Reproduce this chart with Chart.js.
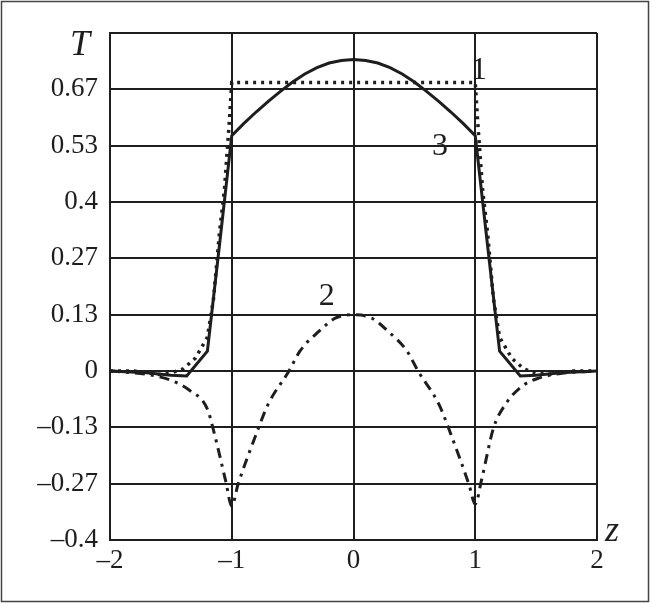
<!DOCTYPE html>
<html lang="en">
<head>
<meta charset="UTF-8">
<title>T(z)</title>
<script src="https://cdn.jsdelivr.net/npm/chart.js@4.4.1/dist/chart.umd.min.js"></script>
<style>
  html, body { margin: 0; padding: 0; background: #ffffff; }
  #wrap { width: 650px; height: 603px; position: relative; }
</style>
</head>
<body>
<div id="wrap"><canvas id="chart" width="650" height="603"></canvas></div>
<script>
// curve 1 (dotted)
const z1 = [-2, -1.8, -1.6, -1.5, -1.4, -1.3, -1.2, -1.15, -1.1, -1.06, -1.02, -1.0,
            1.0, 1.02, 1.06, 1.1, 1.15, 1.2, 1.3, 1.4, 1.5, 1.6, 1.8, 2];
const t1 = [0, 0, -0.008, -0.005, 0.005, 0.03, 0.08, 0.17, 0.33, 0.43, 0.59, 0.683,
            0.683, 0.59, 0.43, 0.33, 0.17, 0.08, 0.03, 0.005, -0.005, -0.008, 0, 0];

// curve 2 (dash-dot)
const z2 = [-2, -1.7, -1.5, -1.35, -1.2, -1.15, -1.05, -1.0, -0.95, -0.8, -0.7, -0.53, -0.44, -0.28, -0.15, 0,
            0.15, 0.28, 0.44, 0.53, 0.7, 0.8, 0.95, 1.0, 1.05, 1.15, 1.25, 1.39, 1.52, 1.7, 2];
const t2 = [0, -0.008, -0.022, -0.045, -0.09, -0.14, -0.26, -0.32, -0.27, -0.15, -0.078, 0, 0.047, 0.095, 0.125, 0.133,
            0.125, 0.095, 0.047, 0, -0.078, -0.15, -0.27, -0.315, -0.26, -0.135, -0.078, -0.035, -0.017, -0.006, 0];

// curve 3 (solid)
const z3 = [-2, -1.7, -1.5, -1.37, -1.2, -1.1, -1.0, -0.9, -0.8, -0.7, -0.6, -0.5, -0.4, -0.3, -0.2, -0.1, 0,
            0.1, 0.2, 0.3, 0.4, 0.5, 0.6, 0.7, 0.8, 0.9, 1.0, 1.1, 1.2, 1.37, 1.5, 1.7, 2];
const t3 = [0, -0.004, -0.01, -0.012, 0.047, 0.3, 0.557, 0.586, 0.613, 0.638, 0.662, 0.684, 0.703, 0.718, 0.729, 0.735, 0.737,
            0.735, 0.729, 0.718, 0.703, 0.684, 0.662, 0.638, 0.613, 0.586, 0.557, 0.3, 0.047, -0.012, -0.01, -0.004, 0];

const xTicks = [-2, -1, 0, 1, 2];
const yTicks = [-0.4, -0.2667, -0.1333, 0, 0.1333, 0.2667, 0.4, 0.5333, 0.6667, 0.8];
const yTickLabels = ['\u20130.4', '\u20130.27', '\u20130.13', '0', '0.13', '0.27', '0.4', '0.53', '0.67', ''];

// curve numbers: [text, z, T]
const curveLabels = [['1', 1.03, 0.71], ['3', 0.71, 0.53], ['2', -0.22, 0.175]];

const toPts = (zs, ts) => zs.map((z, i) => ({ x: z, y: ts[i] }));
const ink = '#1e1e1e';
const serif = '"Liberation Serif", "Times New Roman", serif';

const textPlugin = {
  id: 'texts',
  afterDraw(chart) {
    const ctx = chart.ctx;
    const xs = chart.scales.x, ys = chart.scales.y;
    ctx.save();
    ctx.fillStyle = ink;
    ctx.textAlign = 'center';
    ctx.textBaseline = 'middle';
    ctx.font = '32px ' + serif;
    curveLabels.forEach(([s, z, t]) => {
      ctx.fillText(s, xs.getPixelForValue(z), ys.getPixelForValue(t));
    });
    ctx.font = 'italic 36px ' + serif;
    ctx.fillText('T', 80, 46);
    ctx.fillText('z', 612, 532);
    // outer frame
    ctx.strokeStyle = '#444';
    ctx.lineWidth = 1.5;
    ctx.strokeRect(1.5, 1.5, 647, 600);
    ctx.restore();
  }
};

new Chart(document.getElementById('chart'), {
  type: 'scatter',
  data: {
    datasets: [
      {
        label: '1',
        data: toPts(z1, t1),
        showLine: true,
        borderColor: ink,
        borderWidth: 3.5,
        borderDash: [3, 5],
        pointRadius: 0,
        tension: 0
      },
      {
        label: '2',
        data: toPts(z2, t2),
        showLine: true,
        borderColor: ink,
        borderWidth: 3,
        borderDash: [10, 6, 3, 6],
        pointRadius: 0,
        cubicInterpolationMode: 'monotone'
      },
      {
        label: '3',
        data: toPts(z3, t3),
        showLine: true,
        borderColor: ink,
        borderWidth: 3,
        pointRadius: 0,
        tension: 0
      }
    ]
  },
  options: {
    responsive: false,
    animation: false,
    layout: { padding: { left: 0, top: 33, right: 53, bottom: 0 } },
    plugins: { legend: { display: false }, tooltip: { enabled: false } },
    scales: {
      x: {
        type: 'linear',
        min: -2, max: 2,
        afterFit(scale) { scale.height = 63; },
        afterBuildTicks(scale) { scale.ticks = xTicks.map(v => ({ value: v })); },
        grid: { color: ink, lineWidth: 2, drawTicks: false },
        border: { color: ink, width: 2 },
        ticks: {
          color: ink,
          font: { family: serif, size: 27 },
          padding: 5,
          callback: v => (v < 0 ? '\u2013' + Math.abs(v) : String(v))
        }
      },
      y: {
        type: 'linear',
        min: -0.4, max: 0.8,
        afterFit(scale) { scale.width = 110; },
        afterBuildTicks(scale) { scale.ticks = yTicks.map(v => ({ value: v })); },
        grid: { color: ink, lineWidth: 2, drawTicks: false },
        border: { color: ink, width: 2 },
        ticks: {
          color: ink,
          font: { family: serif, size: 27 },
          padding: 12,
          callback: (v, i) => yTickLabels[i]
        }
      }
    }
  },
  plugins: [textPlugin]
});
</script>
</body>
</html>
